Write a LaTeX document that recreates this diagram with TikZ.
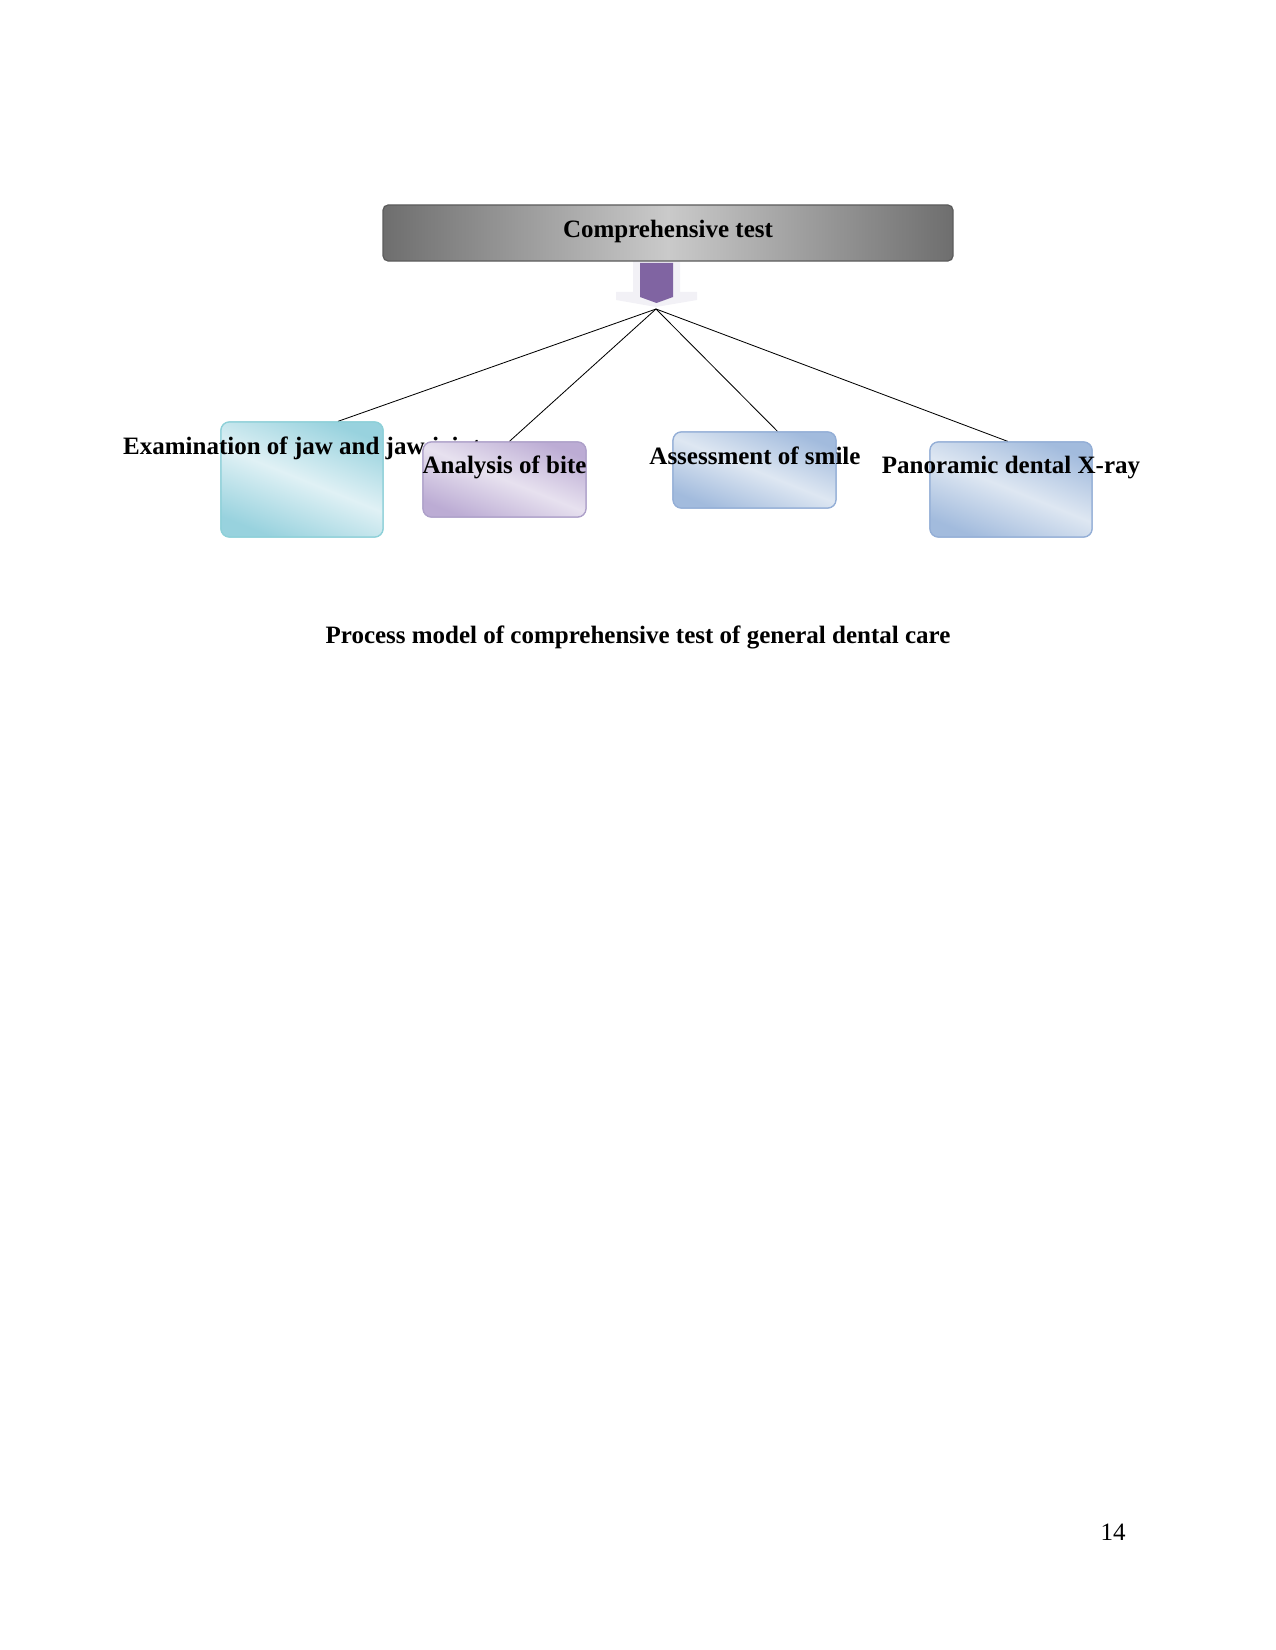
\documentclass[tikz,border=0pt]{standalone}
\usepackage{fontspec}
\setmainfont{Liberation Serif}
\usetikzlibrary{calc}
\definecolor{tealD}{HTML}{98D2DE}
\definecolor{tealL}{HTML}{E0F1F5}
\definecolor{tealB}{HTML}{8DD0D8}
\definecolor{purD}{HTML}{BCACD4}
\definecolor{purL}{HTML}{E7E1EF}
\definecolor{purB}{HTML}{ADA0C9}
\definecolor{bluD}{HTML}{A2BBDD}
\definecolor{bluL}{HTML}{DEE7F2}
\definecolor{bluB}{HTML}{93AED6}
\definecolor{grayD}{HTML}{6E6E6E}
\definecolor{grayL}{HTML}{CACACA}
\definecolor{grayB}{HTML}{5C5C5C}
\definecolor{arrowP}{HTML}{8064A2}
\definecolor{ghost}{HTML}{F2F1F6}
\tikzset{
  lbl/.style={font=\bfseries\fontsize{12pt}{14pt}\selectfont, inner sep=0pt, anchor=base},
  glass/.style={rounded corners=4pt, inner sep=0pt, line width=0.6pt},
  tealbox/.style={glass, draw=tealB, top color=tealD, bottom color=tealD, middle color=tealL, shading angle=-22},
  purbox/.style={glass, draw=purB, top color=purD, bottom color=purD, middle color=purL, shading angle=-22},
  blubox/.style={glass, draw=bluB, top color=bluD, bottom color=bluD, middle color=bluL, shading angle=-22},
  conn/.style={draw=black, line width=0.4pt}
}
\begin{document}
\begin{tikzpicture}[x=0.48pt,y=-0.48pt]
\useasboundingbox (0,0) rectangle (1275,1650);
% faint ghost arrow behind
\fill[ghost] (633,257) -- (680,257) -- (680,292) -- (697,292) -- (697,300) -- (656,307) -- (616,300) -- (616,292) -- (633,292) -- cycle;
% top box
\node[rounded corners=2.5pt, draw=grayB, line width=0.6pt, left color=grayD, right color=grayD, middle color=grayL,
      minimum width=273.6pt, minimum height=26.9pt, inner sep=0pt] (top) at (668,233) {};
\node[lbl] (toptxt) at (668,238) {Comprehensive test};
% purple arrow
\fill[arrowP] (640,263) -- (673,263) -- (673,297) -- (656.5,303) -- (640,297) -- cycle;
\coordinate (hub) at (656,309);
% boxes
\node[tealbox, minimum width=77.8pt, minimum height=55.2pt] (exam) at (302,479.5) {};
\node[purbox, minimum width=78.2pt, minimum height=36pt] (bite) at (504.5,479.5) {};
\node[blubox, minimum width=78.2pt, minimum height=36.5pt] (smile) at (754.5,470) {};
\node[blubox, minimum width=77.8pt, minimum height=45.6pt] (xray) at (1011,489.5) {};
% connectors
\draw[conn] (hub) -- ($(exam.north west)!0.72!(exam.north east)$);
\draw[conn] (hub) -- ($(bite.north west)!0.53!(bite.north east)$);
\draw[conn] (hub) -- ($(smile.north west)!0.64!(smile.north east)$);
\draw[conn] (hub) -- ($(xray.north west)!0.48!(xray.north east)$);
% redraw boxes on top in the original order
\node[tealbox, minimum width=77.8pt, minimum height=55.2pt] at (exam) {};
\node[lbl] (examtxt) at (302,454) {Examination of jaw and jaw joint};
\node[purbox, minimum width=78.2pt, minimum height=36pt] at (bite) {};
\node[lbl] (bitetxt) at (504.5,473) {Analysis of bite};
\node[blubox, minimum width=78.2pt, minimum height=36.5pt] at (smile) {};
\node[lbl] (smiletxt) at (755,464) {Assessment of smile};
\node[blubox, minimum width=77.8pt, minimum height=45.6pt] at (xray) {};
\node[lbl] (xraytxt) at (1011,473) {Panoramic dental X-ray};
% caption and page number
\node[lbl] (caption) at (638,643) {Process model of comprehensive test of general dental care};
\node[inner sep=0pt, anchor=base, font=\fontsize{12pt}{14pt}\selectfont] (pagenum) at (1113,1540) {14};
\end{tikzpicture}
\end{document}
